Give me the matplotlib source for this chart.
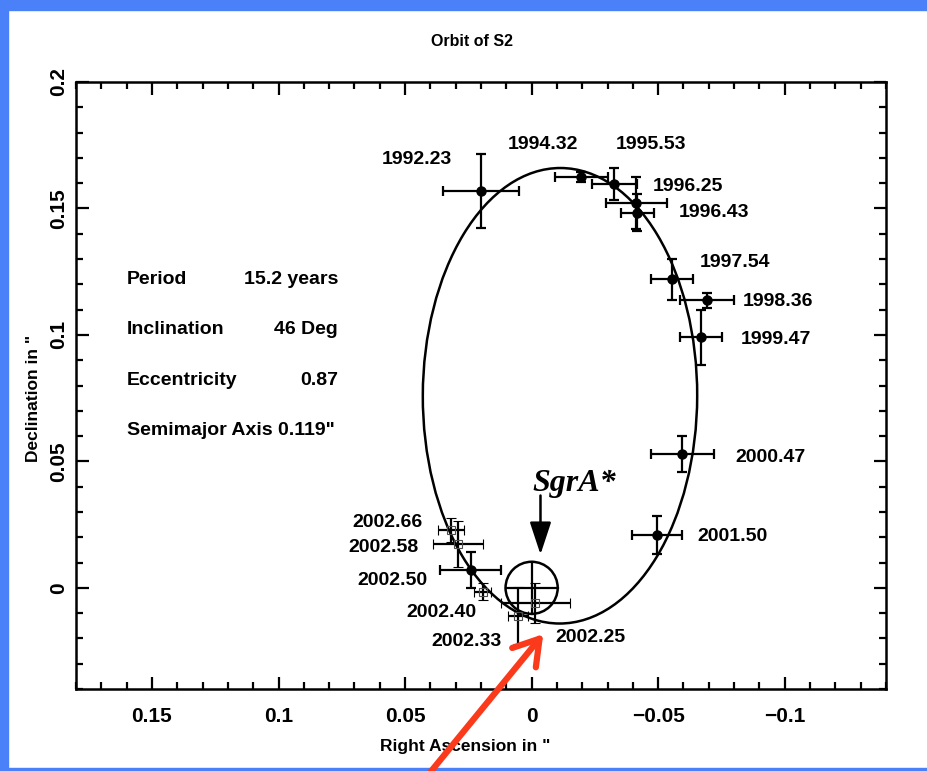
import matplotlib.pyplot as plt
from matplotlib.patches import Ellipse, Circle, Rectangle, FancyArrowPatch
from matplotlib.ticker import MultipleLocator

# filled points (epoch, RA, Dec, errors) in arcsec
names = ['1992.23', '1994.32', '1995.53', '1996.25', '1996.43', '1997.54',
         '1998.36', '1999.47', '2000.47', '2001.50', '2002.50']
ra = [0.0201, -0.0197, -0.0327, -0.0413, -0.0417, -0.0555, -0.0693, -0.0669, -0.0595, -0.0496, 0.0240]
dec = [0.157, 0.1626, 0.1598, 0.1523, 0.1484, 0.122, 0.1137, 0.099, 0.0529, 0.0209, 0.0071]
ra_err = [0.015, 0.0105, 0.009, 0.012, 0.0065, 0.0083, 0.0105, 0.0083, 0.0124, 0.010, 0.012]
dec_err = [0.0146, 0.002, 0.0063, 0.0103, 0.0075, 0.008, 0.003, 0.011, 0.007, 0.0075, 0.007]

# open squares, 2002 epochs
open_names = ['2002.66', '2002.58', '2002.40', '2002.33', '2002.25']
open_ra = [0.0319, 0.0291, 0.0193, 0.0055, -0.0015]
open_dec = [0.0229, 0.0174, -0.0016, -0.011, -0.006]
open_ra_err = [0.0051, 0.0098, 0.0033, 0.004, 0.0135]
open_dec_err = [0.0049, 0.009, 0.0034, 0.0112, 0.008]

# label positions (RA, Dec)
lab_names = names + open_names
lab_x = [0.0453, -0.0043, -0.0472, -0.0618, -0.0720, -0.0803, -0.0972, -0.0965, -0.0945, -0.0795, 0.0551,
         0.0571, 0.0587, 0.0358, 0.0256, -0.0232]
lab_y = [0.1693, 0.1752, 0.1752, 0.1586, 0.1484, 0.1286, 0.1132, 0.0983, 0.0517, 0.0201, 0.0028,
         0.0260, 0.0158, -0.0099, -0.0213, -0.0197]

# orbit ellipse (centre, full widths, tilt)
orbit_center = (-0.01121, 0.07594)
orbit_w, orbit_h, orbit_ang = 0.1084, 0.1801, 0.15

params = ['Period', 'Inclination', 'Eccentricity']
param_vals = ['15.2 years', '46 Deg', '0.87']

fig = plt.figure(figsize=(9.28, 7.71), dpi=100)
ax = fig.add_axes([76 / 928, 1 - 689 / 771, 810 / 928, 607 / 771])

ax.add_patch(Ellipse(orbit_center, orbit_w, orbit_h, angle=orbit_ang, fill=False, lw=1.8, color='k'))

ax.errorbar(ra, dec, xerr=ra_err, yerr=dec_err, fmt='o', color='k', ms=6.5,
            elinewidth=1.6, capsize=3.5, capthick=1.6)
ax.errorbar(open_ra, open_dec, xerr=open_ra_err, yerr=open_dec_err, fmt='s', color='k',
            mfc='none', mec='0.3', mew=0.8, ms=6, elinewidth=1.6, capsize=3.5, capthick=1.6)

for n, lx, ly in zip(lab_names, lab_x, lab_y):
    ax.text(lx, ly, n, ha='center', va='center', fontsize=14, fontweight='bold',
            family='Liberation Sans')

# SgrA* marker
r = 0.0103
ax.add_patch(Circle((0, 0), r, fill=False, lw=1.8, color='k'))
ax.plot([0, 0], [-r, r], color='k', lw=1.6)
ax.plot([-r, r], [0, 0], color='k', lw=1.6)
ax.annotate('', xy=(-0.0035, 0.0132), xytext=(-0.0035, 0.0365),
            arrowprops=dict(arrowstyle='-|>,head_length=1.0,head_width=0.33', lw=1.8,
                            color='k', mutation_scale=20, shrinkA=0, shrinkB=0))
ax.text(-0.0169, 0.0414, 'SgrA*', ha='center', va='center', fontsize=23,
        fontweight='bold', fontstyle='italic', family='Liberation Serif')

# orbit parameters
for i, (p, v) in enumerate(zip(params, param_vals)):
    yy = 0.1221 - i * 0.0200
    ax.text(0.160, yy, p, ha='left', va='center', fontsize=14, fontweight='bold', family='Liberation Sans')
    ax.text(0.0765, yy, v, ha='right', va='center', fontsize=14, fontweight='bold', family='Liberation Sans')
ax.text(0.160, 0.1221 - 3 * 0.0200, 'Semimajor Axis 0.119"', ha='left', va='center',
        fontsize=14, fontweight='bold', family='Liberation Sans')

ax.set_xlim(0.18, -0.14)
ax.set_ylim(-0.04, 0.2)
ax.xaxis.set_minor_locator(MultipleLocator(0.01))
ax.yaxis.set_minor_locator(MultipleLocator(0.01))
ax.set_xticks([0.15, 0.1, 0.05, 0, -0.05, -0.1])
ax.set_xticklabels(['0.15', '0.1', '0.05', '0', '\u22120.05', '\u22120.1'])
ax.set_yticks([0, 0.05, 0.1, 0.15, 0.2])
ax.set_yticklabels(['0', '0.05', '0.1', '0.15', '0.2'], rotation=90, va='center')
ax.tick_params(which='both', direction='in', top=True, right=True, width=1.6)
ax.tick_params(which='major', length=9)
ax.tick_params(axis='x', which='major', pad=13)
ax.tick_params(axis='y', which='major', pad=5.5)
ax.tick_params(which='minor', length=5)
for lbl in ax.get_xticklabels() + ax.get_yticklabels():
    lbl.set_fontsize(15)
    lbl.set_fontweight('bold')
    lbl.set_family('Liberation Sans')
for s in ax.spines.values():
    s.set_linewidth(1.8)

ax.set_title('Orbit of S2', fontsize=11.5, fontweight='bold', family='Liberation Sans', pad=26, x=0.489)
ax.set_xlabel('Right Ascension in "', fontsize=12.5, fontweight='bold', family='Liberation Sans')
ax.set_ylabel('Declination in "', fontsize=12.5, fontweight='bold', family='Liberation Sans')
ax.xaxis.set_label_coords(0.480, -0.0824)
ax.yaxis.set_label_coords(-0.043, 0.479)

# blue frame and red pointer
blue = '#4a80f8'
fig.patches.append(Rectangle((0, 0), 8 / 928, 1, transform=fig.transFigure, color=blue, zorder=0))
fig.patches.append(Rectangle((0, 1 - 10 / 771), 1, 10 / 771, transform=fig.transFigure, color=blue, zorder=0))
fig.patches.append(Rectangle((0, 0), 1, 3 / 771, transform=fig.transFigure, color=blue, zorder=0))
fig.add_artist(FancyArrowPatch(
    (428 / 928, 1 - 775 / 771), (545 / 928, 1 - 632 / 771), transform=fig.transFigure,
    arrowstyle='->,head_length=0.8,head_width=0.5', mutation_scale=22, lw=4.5, color='#fa3a1a'))

fig.savefig('out.png', dpi=100)
